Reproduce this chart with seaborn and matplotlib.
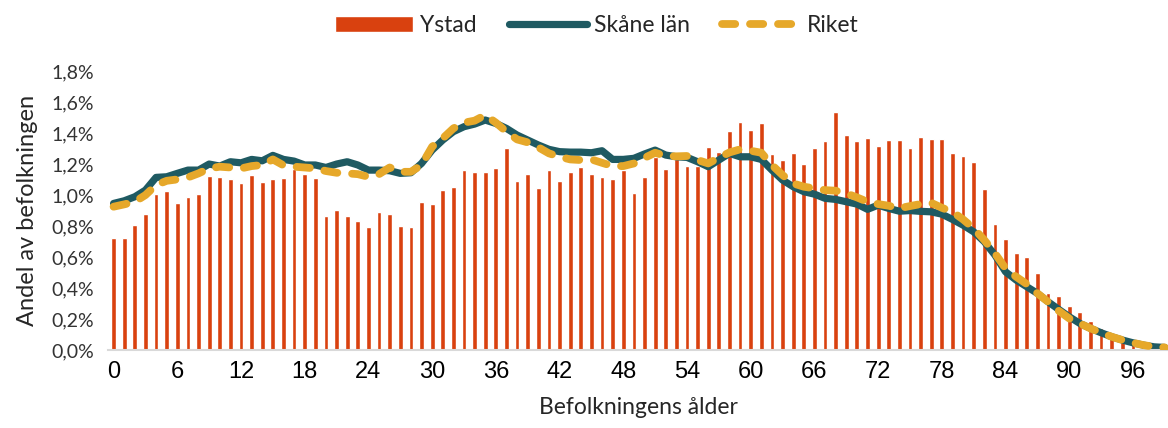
import numpy as np
import pandas as pd
import matplotlib
matplotlib.use("Agg")
import matplotlib.pyplot as plt
from matplotlib.ticker import FuncFormatter
import seaborn as sns

# %%
# Andel av befolkningen (%) per ålder 0-99
ages = list(range(100))

ystad = [0.72, 0.72, 0.81, 0.875, 1.006, 1.024, 0.946, 0.987, 1.004, 1.125,
         1.116, 1.103, 1.077, 1.129, 1.082, 1.101, 1.112, 1.168, 1.135, 1.112,
         0.867, 0.901, 0.867, 0.832, 0.796, 0.89, 0.877, 0.802, 0.794, 0.953,
         0.944, 1.032, 1.054, 1.159, 1.151, 1.146, 1.176, 1.301, 1.09, 1.135,
         1.043, 1.159, 1.09, 1.146, 1.178, 1.138, 1.118, 1.105, 1.159, 1.015,
         1.118, 1.247, 1.166, 1.232, 1.189, 1.187, 1.312, 1.275, 1.413, 1.469,
         1.421, 1.462, 1.262, 1.226, 1.269, 1.202, 1.301, 1.348, 1.538, 1.389,
         1.348, 1.368, 1.314, 1.353, 1.355, 1.303, 1.374, 1.359, 1.359, 1.269,
         1.249, 1.215, 1.039, 0.813, 0.716, 0.626, 0.602, 0.499, 0.366, 0.348,
         0.284, 0.249, 0.185, 0.144, 0.095, 0.09, 0.054, 0.032, 0.017, 0.01]

skane = [0.946, 0.963, 0.989, 1.032, 1.114, 1.118, 1.14, 1.161, 1.161, 1.2,
         1.187, 1.215, 1.208, 1.23, 1.221, 1.256, 1.23, 1.219, 1.194, 1.194,
         1.178, 1.2, 1.215, 1.194, 1.161, 1.161, 1.157, 1.14, 1.144, 1.204,
         1.29, 1.355, 1.409, 1.441, 1.458, 1.484, 1.462, 1.43, 1.387, 1.355,
         1.323, 1.295, 1.28, 1.277, 1.277, 1.273, 1.286, 1.23, 1.23, 1.237,
         1.265, 1.29, 1.258, 1.247, 1.243, 1.215, 1.183, 1.226, 1.269, 1.247,
         1.247, 1.23, 1.161, 1.097, 1.054, 1.022, 1.006, 0.979, 0.972, 0.957,
         0.942, 0.908, 0.935, 0.914, 0.896, 0.9, 0.895, 0.892, 0.877, 0.843,
         0.806, 0.763, 0.699, 0.613, 0.505, 0.452, 0.409, 0.366, 0.312, 0.263,
         0.215, 0.172, 0.14, 0.112, 0.086, 0.065, 0.047, 0.032, 0.021, 0.017]

riket = [0.925, 0.94, 0.957, 1.0, 1.065, 1.092, 1.101, 1.114, 1.14, 1.172,
         1.183, 1.178, 1.172, 1.187, 1.194, 1.23, 1.192, 1.183, 1.178, 1.172,
         1.155, 1.144, 1.14, 1.135, 1.118, 1.135, 1.178, 1.15, 1.15, 1.194,
         1.312, 1.366, 1.43, 1.467, 1.48, 1.516, 1.467, 1.409, 1.359, 1.34,
         1.308, 1.269, 1.247, 1.23, 1.226, 1.23, 1.208, 1.187, 1.187, 1.204,
         1.24, 1.273, 1.252, 1.25, 1.252, 1.226, 1.204, 1.241, 1.275, 1.295,
         1.286, 1.273, 1.194, 1.129, 1.075, 1.054, 1.043, 1.032, 1.028, 1.011,
         0.985, 0.957, 0.942, 0.931, 0.915, 0.929, 0.942, 0.95, 0.918, 0.892,
         0.843, 0.785, 0.71, 0.624, 0.527, 0.473, 0.426, 0.366, 0.312, 0.254,
         0.204, 0.172, 0.14, 0.112, 0.086, 0.065, 0.047, 0.032, 0.021, 0.017]

df = pd.DataFrame({'age': ages, 'Ystad': ystad, 'Skåne län': skane, 'Riket': riket})

# %%
sns.set_style("white")
plt.rcParams['font.family'] = ['Lato', 'DejaVu Sans']

fig, ax = plt.subplots(figsize=(11.68, 4.28), dpi=100)
fig.subplots_adjust(left=0.0927, right=1.0, bottom=0.182, top=0.834)

sns.barplot(data=df, x='age', y='Ystad', native_scale=True, width=0.45,
            color='#D9410F', saturation=1, label='Ystad', ax=ax, zorder=1)
sns.lineplot(data=df, x='age', y='Skåne län', color='#1F5A62', linewidth=5.2,
             label='Skåne län', ax=ax, zorder=2)
sns.lineplot(data=df, x='age', y='Riket', color='#E6A82A', linewidth=5.6,
             label='Riket', ax=ax, zorder=3)
ax.lines[-1].set_dashes((1.7, 1.9))
ax.lines[-1].set_dash_capstyle('round')
ax.lines[-2].set_solid_capstyle('round')

ax.set_xlim(-0.5, 99.3)
ax.set_ylim(0, 1.8)
ax.set_xticks(range(0, 97, 6))
ax.set_yticks(np.arange(0, 1.81, 0.2))
ax.yaxis.set_major_formatter(FuncFormatter(lambda v, p: f"{v:.1f}%".replace('.', ',')))
for lab in ax.get_xticklabels():
    lab.set_family('Liberation Sans')
    lab.set_fontsize(17)
    lab.set_color('black')
for lab in ax.get_yticklabels():
    lab.set_fontsize(14)
    lab.set_color('#333333')
ax.tick_params(axis='both', length=0)
ax.tick_params(axis='x', pad=8)
ax.tick_params(axis='y', pad=10)

ax.set_xlabel('Befolkningens ålder', fontsize=16.5, color='#262626', labelpad=10)
ax.set_ylabel('Andel av befolkningen', fontsize=17, color='#262626', labelpad=10)

sns.despine(ax=ax, left=True)
ax.spines['bottom'].set_color('#D9D9D9')
ax.spines['bottom'].set_linewidth(1.5)

handles, labels = ax.get_legend_handles_labels()
ax.get_legend().remove()
order = [labels.index(n) for n in ['Ystad', 'Skåne län', 'Riket']]
leg = fig.legend([handles[i] for i in order], [labels[i] for i in order],
                 loc='center', bbox_to_anchor=(0.511, 0.94), ncol=3,
                 frameon=False, handlelength=3.4, handletextpad=0.3,
                 columnspacing=1.4, prop={'size': 16.5})
for t in leg.get_texts():
    t.set_color('#262626')

fig.savefig('out.png', dpi=100)
